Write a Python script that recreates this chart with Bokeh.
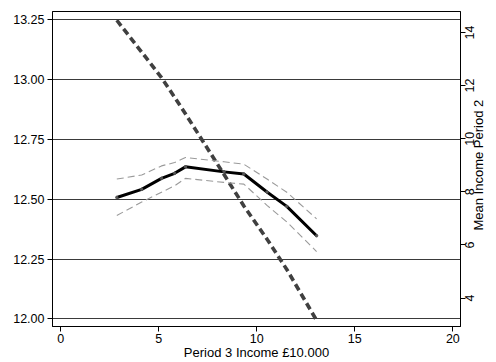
from math import pi
from bokeh.plotting import figure
from bokeh.models import Range1d, LinearAxis, FixedTicker, NumeralTickFormatter, ColumnDataSource
from bokeh.embed import file_html
from bokeh.resources import INLINE

# ---- data ----
income_p3 = [2.86, 4.13, 5.14, 5.81, 6.36, 8.33, 9.34, 10.52, 11.53, 13.05]
fitted = [12.507, 12.541, 12.587, 12.608, 12.635, 12.614, 12.605, 12.530, 12.470, 12.347]
ci_upper = [12.584, 12.601, 12.639, 12.653, 12.674, 12.656, 12.646, 12.584, 12.529, 12.418]
ci_lower = [12.432, 12.488, 12.529, 12.556, 12.587, 12.570, 12.563, 12.474, 12.405, 12.281]
mean_income_p2 = [14.46, 13.26, 12.30, 11.56, 10.94, 8.65, 7.47, 6.22, 5.08, 3.16]

x_ticks = [0, 5, 10, 15, 20]
left_ticks = [12.0, 12.25, 12.5, 12.75, 13.0, 13.25]
right_ticks = [4, 6, 8, 10, 12, 14]
x_title = "Period 3 Income £10.000"
right_title = "Mean Income Period 2"

FONT = "Liberation Sans"
W, H = 496, 362
BL, BR, BT, BB = 52, 33, 11, 33
R_LO, R_HI = 2.93, 14.79

src = ColumnDataSource(dict(x=income_p3, fit=fitted, hi=ci_upper, lo=ci_lower, p2=mean_income_p2))

p = figure(width=W, height=H, output_backend="svg", toolbar_location=None,
           x_range=Range1d(-0.42, 20.39), y_range=Range1d(11.968, 13.284),
           min_border_left=BL, min_border_right=BR, min_border_top=BT, min_border_bottom=BB,
           background_fill_color="white", border_fill_color="white")
p.extra_y_ranges = {"r": Range1d(R_LO, R_HI)}

p.outline_line_color = "black"
p.outline_line_width = 1
p.outline_line_alpha = 1

p.xgrid.visible = False
p.ygrid.ticker = FixedTicker(ticks=left_ticks)
p.ygrid.grid_line_color = "#3a3a3a"
p.ygrid.grid_line_width = 1
p.ygrid.grid_line_alpha = 1

p.xaxis.ticker = FixedTicker(ticks=x_ticks)
p.yaxis[0].ticker = FixedTicker(ticks=left_ticks)
p.yaxis[0].formatter = NumeralTickFormatter(format="0.00")


def style(ax, size="12.5px"):
    ax.axis_line_color = "black"
    ax.axis_line_width = 1
    ax.major_tick_line_color = "black"
    ax.major_tick_line_width = 1
    ax.major_tick_out = 5
    ax.major_tick_in = 0
    ax.minor_tick_out = 0
    ax.minor_tick_in = 0
    ax.major_label_text_font = FONT
    ax.major_label_text_font_size = size
    ax.major_label_text_color = "black"
    ax.major_label_standoff = 3
    ax.axis_label_text_font = FONT
    ax.axis_label_text_font_size = "13px"
    ax.axis_label_text_font_style = "normal"
    ax.axis_label_text_color = "black"


style(p.xaxis[0])
style(p.yaxis[0])
p.xaxis[0].axis_label = x_title
p.xaxis[0].major_label_standoff = 2
p.xaxis[0].axis_label_standoff = -1

# ---- right axis: ticks, rotated numbers (centred on ticks), rotated title ----
frame_h = H - BT - 35.0
px_per_unit = frame_h / (R_HI - R_LO)
digit_w = 6.95  # width of one digit at 12.5px

tick_axis = LinearAxis(y_range_name="r", ticker=FixedTicker(ticks=right_ticks))
style(tick_axis, size="1px")
tick_axis.major_label_standoff = 0
tick_axis.major_label_overrides = {v: "" for v in right_ticks}

label_pos = [round(v - len(str(v)) * digit_w / 2 / px_per_unit, 4) for v in right_ticks]
num_axis = LinearAxis(y_range_name="r", ticker=FixedTicker(ticks=label_pos),
                      major_label_orientation=pi / 2)
style(num_axis)
num_axis.axis_line_color = None
num_axis.major_tick_out = 0
num_axis.major_label_standoff = 4
num_axis.major_label_overrides = {lp: str(v) for lp, v in zip(label_pos, right_ticks)}

title_len = 131.0
title_start = round(9.0 - title_len / 2 / px_per_unit, 4)
title_axis = LinearAxis(y_range_name="r", ticker=FixedTicker(ticks=[title_start]),
                        major_label_orientation=pi / 2)
style(title_axis, size="13px")
title_axis.axis_line_color = None
title_axis.major_tick_out = 0
title_axis.major_label_standoff = -3
title_axis.major_label_overrides = {title_start: right_title}

p.add_layout(tick_axis, "right")
p.add_layout(num_axis, "right")
p.add_layout(title_axis, "right")

# thick dashed line (right axis)
p.line("x", "p2", source=src, y_range_name="r", line_color="#404040",
       line_width=3.6, line_dash="7 4")
# confidence band lines
p.line("x", "hi", source=src, line_color="#9a9a9a", line_width=1.1, line_dash="7 4")
p.line("x", "lo", source=src, line_color="#9a9a9a", line_width=1.1, line_dash="7 4")
# fitted line
p.line("x", "fit", source=src, line_color="black", line_width=3, line_join="round")
p.scatter("x", "fit", source=src, size=2.5, color="#555555")

open("out.html", "w").write(file_html(p, INLINE))
